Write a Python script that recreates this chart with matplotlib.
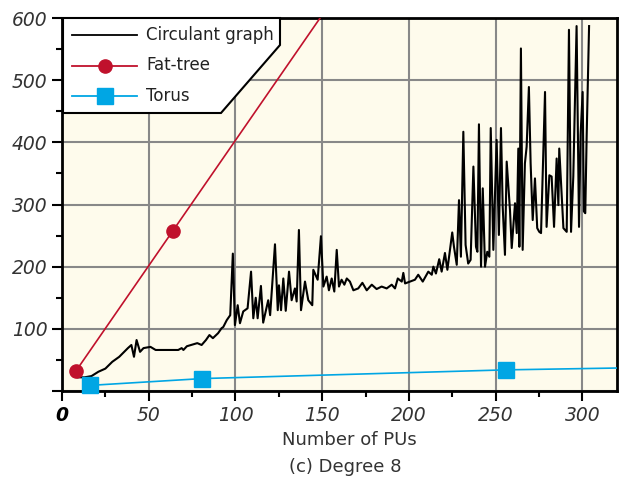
import matplotlib
matplotlib.use("Agg")
import matplotlib.pyplot as plt
import matplotlib.ticker as ticker
from matplotlib.patches import Polygon
from matplotlib.lines import Line2D

# circulant graph
circ_x = [9, 13, 17, 21, 25, 29, 33, 38, 40, 41.5, 43, 45, 47, 51, 54, 67, 69, 70, 72, 78,
          80.5, 83, 85, 87, 90, 92, 93, 95, 97, 98.5, 99.7, 101.3, 102.6, 104.5, 107, 109,
          110.3, 111.7, 112.8, 114.7, 116, 118.9, 120, 122.8, 124.4, 125.1, 126.3, 127.6,
          129, 130.9, 132.4, 134.3, 135.3, 136.6, 137.8, 140.1, 142, 144.3, 144.9, 147.4,
          149.3, 150.7, 152.6, 153.9, 155.5, 157, 158.4, 159.7, 161.2, 162.8, 164.2, 166,
          168, 170.8, 173.2, 175.7, 178.6, 181.4, 184.3, 187.2, 190.1, 192, 193.6, 195.9,
          196.8, 197.8, 200.6, 203.5, 205.4, 208, 211.2, 213.2, 214.1, 215.6, 217.5, 218.9,
          220.8, 222.2, 223.7, 225, 226, 227.6, 228.9, 230, 231.4, 232.7, 234.2, 235.6,
          237.2, 238.7, 239.5, 240.4, 241.6, 242.6, 243.9, 245.2, 246.4, 247.2, 248.7,
          250.6, 251.9, 253.1, 254.1, 255.4, 256.4, 258.3, 259.3, 261.2, 262.2, 263.1,
          263.7, 264.6, 265.6, 266.9, 267.9, 269.2, 270.2, 271.4, 272.7, 274, 275.2, 276.2,
          277.1, 278.5, 279.4, 281, 282.3, 283.7, 285.2, 286.2, 286.7, 289.1, 291, 292.3,
          293.5, 294.8, 296.7, 298.1, 299, 300.2, 300.9, 301.7, 302.5, 303.9]
circ_y = [22, 22, 24, 31, 36, 47, 55, 69, 74, 55, 82, 63, 69, 71, 66, 66, 69, 66, 72, 77,
          74, 82, 90, 85, 93, 101, 103, 114, 122, 221, 106, 138, 109, 128, 133, 192,
          117, 150, 117, 169, 110, 146, 122, 236, 130, 170, 130, 181,
          129, 192, 146, 165, 144, 259, 130, 176, 146, 138, 195, 179,
          249, 168, 184, 162, 181, 160, 227, 168, 179, 171, 181, 176,
          162, 165, 174, 162, 171, 164, 168, 165, 171, 165, 181, 176,
          190, 173, 176, 179, 187, 176, 192, 187, 200, 189, 212, 192,
          222, 195, 227, 255, 232, 203, 307, 216, 417, 235, 205, 211,
          361, 232, 224, 429, 200, 326, 200, 224, 216, 423, 227,
          404, 251, 423, 296, 219, 369, 291, 230, 302, 254, 390,
          232, 551, 227, 366, 393, 489, 366, 275, 342, 262, 256, 254,
          345, 481, 264, 347, 345, 264, 374, 299, 390, 262, 256, 581,
          256, 345, 587, 264, 412, 481, 289, 286, 409, 587]

fat_x = [8, 64, 216]
fat_y = [32, 258, 871]

torus_x = [16, 81, 256, 625]
torus_y = [9, 20, 34, 51]

x_ticks = [0, 50, 100, 150, 200, 250, 300]
y_ticks = [0, 100, 200, 300, 400, 500, 600]

RED = '#c0112c'
BLUE = '#00a6e4'

W, H = 621, 482


def fx(px):
    return px / W


def fy(py):
    return 1 - py / H


fig = plt.figure(figsize=(6.21, 4.82), dpi=100)
ax = fig.add_axes([fx(62), fy(391), fx(617) - fx(62), fy(18) - fy(391)])
ax.set_facecolor('#fefbec')

ax.plot(circ_x, circ_y, color='black', lw=1.5, zorder=3)
ax.plot(fat_x, fat_y, color=RED, lw=1.2, marker='o', ms=9.5, zorder=4)
ax.plot(torus_x, torus_y, color=BLUE, lw=1.2, zorder=4)
vis = [(x, y) for x, y in zip(torus_x, torus_y) if x <= 320]
ax.plot([v[0] for v in vis], [v[1] for v in vis], ls='none', marker='s', ms=12,
        color=BLUE, clip_on=False, zorder=5)

ax.set_xlim(0, 320)
ax.set_ylim(0, 600)
ax.set_xticks(x_ticks)
ax.set_yticks(y_ticks)
ax.set_yticklabels([''] + [str(t) for t in y_ticks[1:]])
ax.xaxis.set_minor_locator(ticker.MultipleLocator(25))
ax.yaxis.set_minor_locator(ticker.MultipleLocator(50))
ax.tick_params(which='major', length=7, width=1.5, direction='out', color='black',
               labelsize=13.5, labelcolor='#333333')
ax.tick_params(which='minor', length=4, width=1.5, direction='out', color='black')
for lab in ax.get_xticklabels() + ax.get_yticklabels():
    lab.set_fontstyle('italic')
ax.get_xticklabels()[0].set_color('black')
ax.get_xticklabels()[0].set_fontweight('bold')

ax.grid(which='major', color='#888888', lw=1.5)
ax.set_axisbelow(True)
for s in ax.spines.values():
    s.set_linewidth(2)
    s.set_color('black')

fig.text(fx(349), fy(440), 'Number of PUs', ha='center', va='center', fontsize=13,
         color='#333333')
fig.text(fx(345), fy(467), '(c) Degree 8', ha='center', va='center', fontsize=13,
         color='#333333')

# legend box with the clipped corner
corner = [(63, 18), (280, 18), (280, 45), (221, 113), (63, 113)]
fig.add_artist(Polygon([(fx(a), fy(b)) for a, b in corner], closed=True,
                       facecolor='white', edgecolor='black', lw=1.5,
                       transform=fig.transFigure, zorder=10))
entries = [('Circulant graph', 'black', None, 0),
           ('Fat-tree', RED, 'o', 9.5),
           ('Torus', BLUE, 's', 12)]
for i, (name, col, mk, ms) in enumerate(entries):
    py = 35 + i * 30.5
    fig.add_artist(Line2D([fx(72), fx(137)], [fy(py), fy(py)], color=col, lw=1.3,
                          transform=fig.transFigure, zorder=11))
    if mk:
        fig.add_artist(Line2D([fx(105)], [fy(py)], color=col, marker=mk, ms=ms,
                              transform=fig.transFigure, zorder=12))
    fig.text(fx(146), fy(py), name, ha='left', va='center', fontsize=12,
             color='#222222', zorder=12)

fig.savefig('out.png', dpi=100)
